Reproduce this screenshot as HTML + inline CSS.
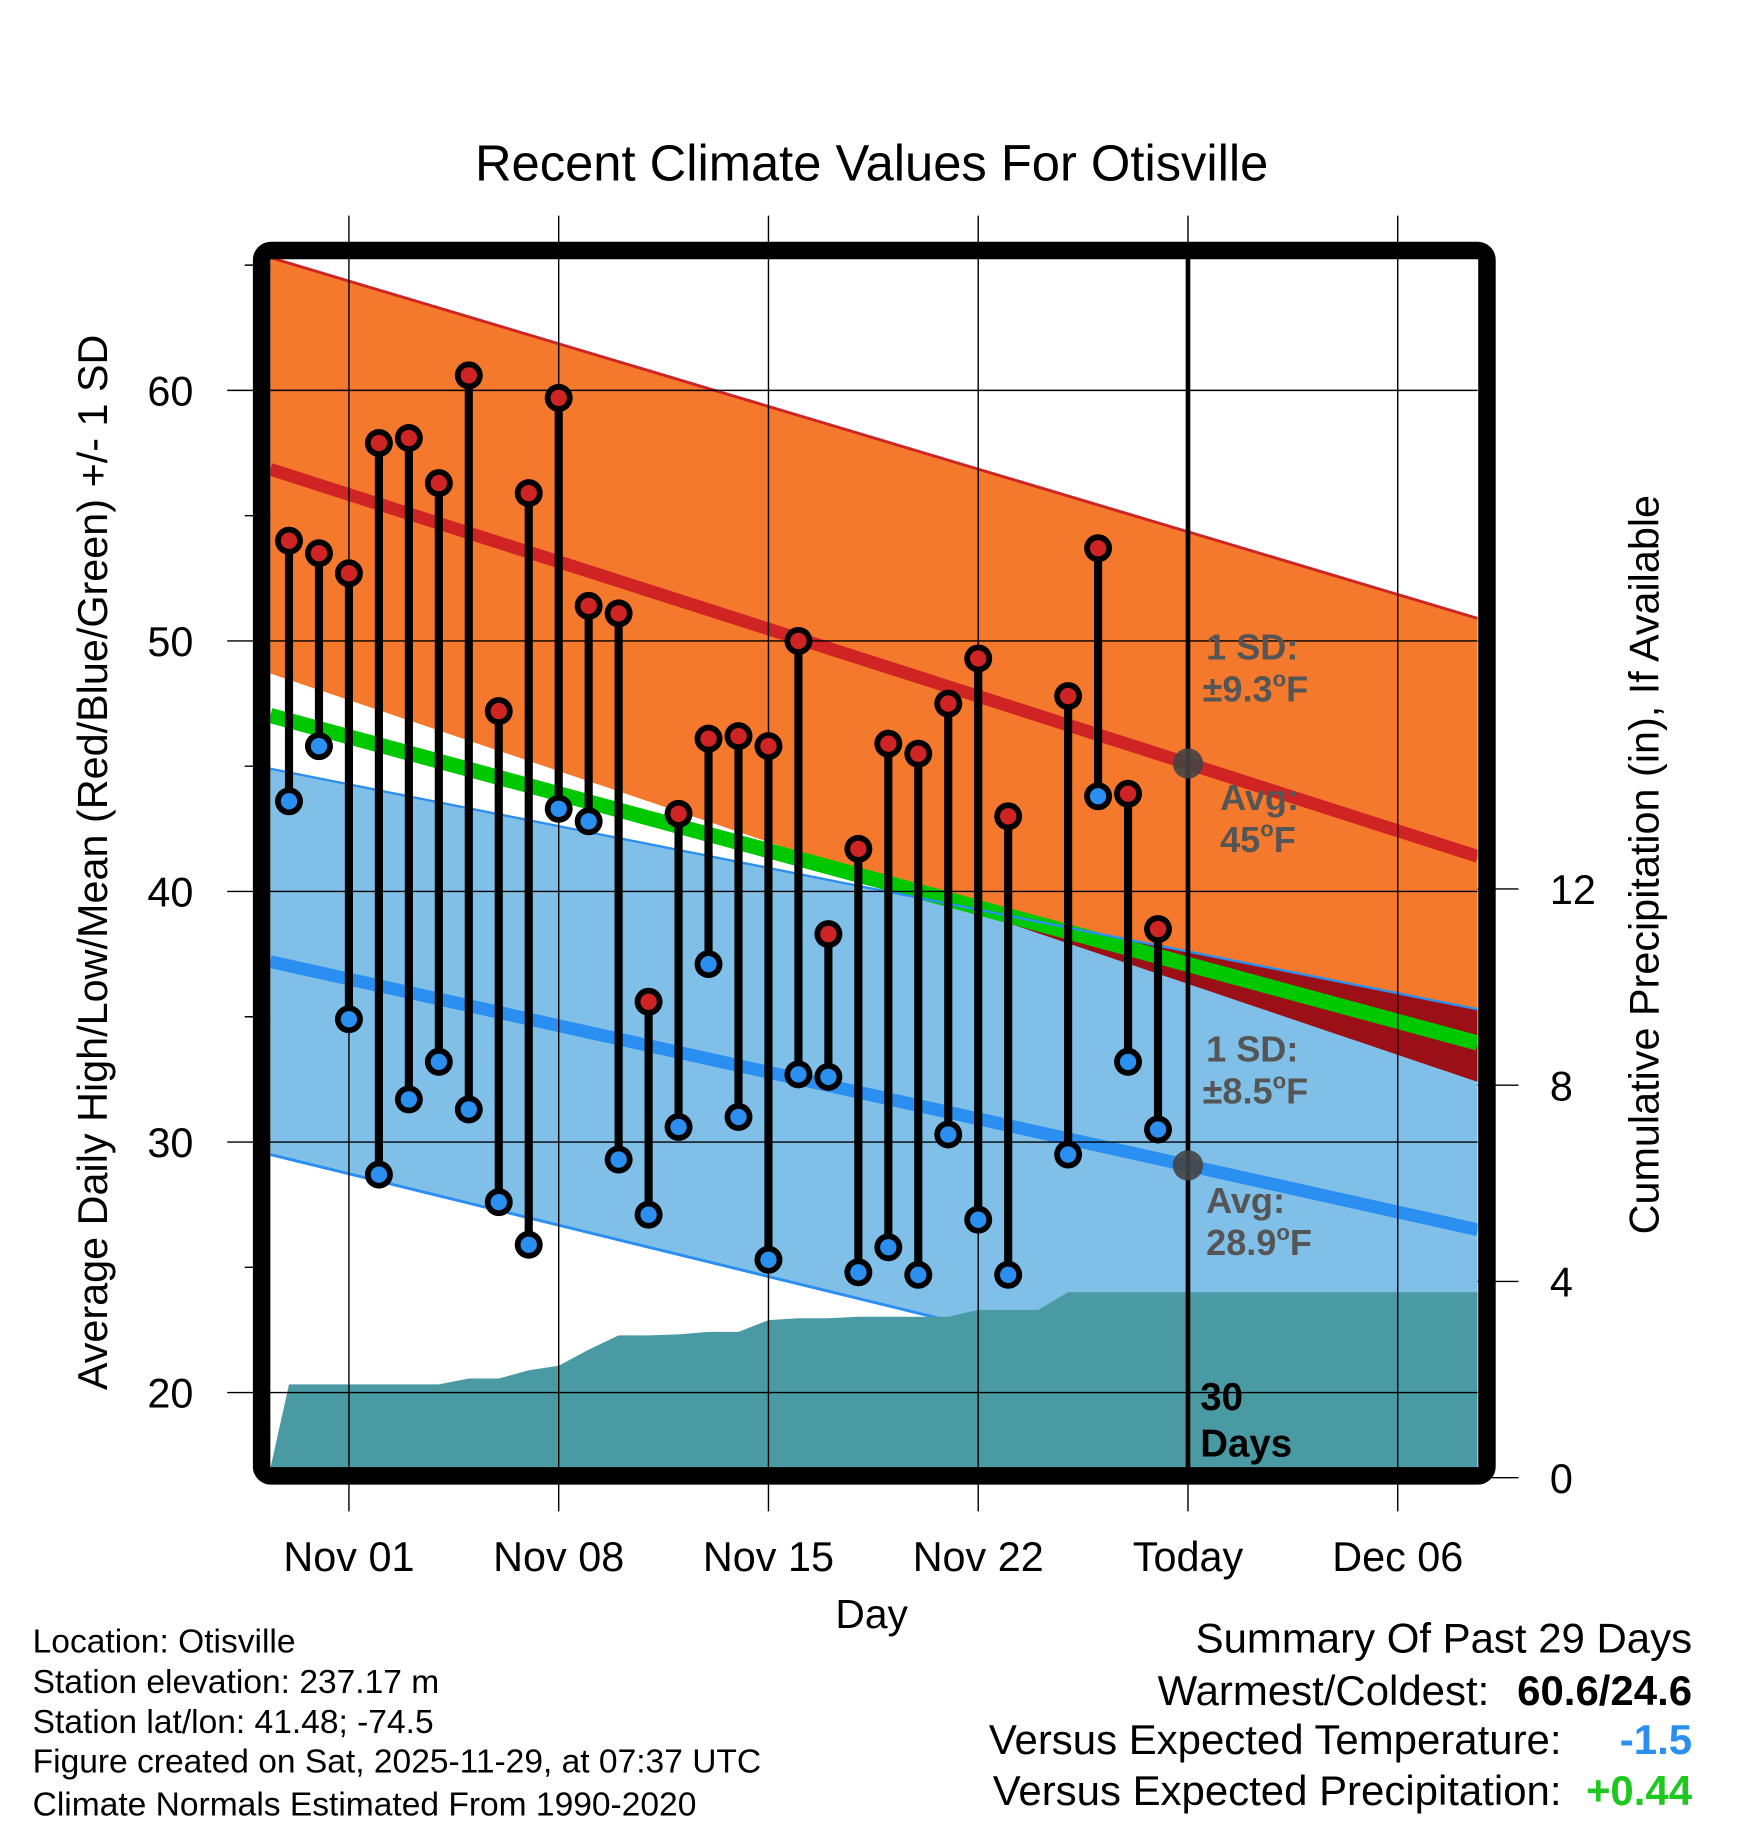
<!DOCTYPE html>
<html><head><meta charset="utf-8"><style>
html,body{margin:0;padding:0;background:#fff}
svg{display:block}
text{font-family:"Liberation Sans",sans-serif}
</style></head><body>
<svg id="chart" width="1748" height="1828" viewBox="0 0 1500 1568.65" preserveAspectRatio="none" xmlns="http://www.w3.org/2000/svg">
<text x="748" y="155" font-size="43.5" text-anchor="middle">Recent Climate Values For Otisville</text>
<text transform="translate(92,740) rotate(-90)" font-size="35.5" text-anchor="middle">Average Daily High/Low/Mean (Red/Blue/Green) +/- 1 SD</text>
<text transform="translate(1423,742) rotate(-90)" font-size="35.5" text-anchor="middle">Cumulative Precipitation (in), If Available</text>
<text x="748" y="1397" font-size="35" text-anchor="middle">Day</text>
<g font-size="28.8">
<text x="28" y="1418">Location: Otisville</text>
<text x="28" y="1453">Station elevation: 237.17 m</text>
<text x="28" y="1487">Station lat/lon: 41.48; -74.5</text>
<text x="28" y="1521">Figure created on Sat, 2025-11-29, at 07:37 UTC</text>
<text x="28" y="1558">Climate Normals Estimated From 1990-2020</text>
</g>
<g font-size="36">
<text x="1452" y="1418" text-anchor="end">Summary Of Past 29 Days</text>
<text x="1278" y="1463" text-anchor="end">Warmest/Coldest:</text>
<text x="1452" y="1463" text-anchor="end" font-weight="bold">60.6/24.6</text>
<text x="1340" y="1505" text-anchor="end">Versus Expected Temperature:</text>
<text x="1452" y="1505" text-anchor="end" font-weight="bold" fill="#2a8ff0">-1.5</text>
<text x="1340" y="1549" text-anchor="end">Versus Expected Precipitation:</text>
<text x="1452" y="1549" text-anchor="end" font-weight="bold" fill="#1ec81e">+0.44</text>
</g>
</svg>
<script>
// ---- data ----
const dayLabels = ["Oct 30","Oct 31","Nov 01","Nov 02","Nov 03","Nov 04","Nov 05","Nov 06","Nov 07","Nov 08","Nov 09","Nov 10","Nov 11","Nov 12","Nov 13","Nov 14","Nov 15","Nov 16","Nov 17","Nov 18","Nov 19","Nov 20","Nov 21","Nov 22","Nov 23","Nov 24","Nov 25","Nov 26","Nov 27","Nov 28"];
const highs = [54.0,53.5,52.7,57.9,58.1,56.3,60.6,47.2,55.9,59.7,51.4,51.1,35.6,43.1,46.1,46.2,45.8,50.0,38.3,41.7,45.9,45.5,47.5,49.3,43.0,null,47.8,53.7,43.9,38.5];
const lows = [43.6,45.8,34.9,28.7,31.7,33.2,31.3,27.6,25.9,43.3,42.8,29.3,27.1,30.6,37.1,31.0,25.3,32.7,32.6,24.8,25.8,24.7,30.3,26.9,24.7,null,29.5,43.8,33.2,30.5];
const cumPrecip = [1.9,1.9,1.9,1.9,1.9,1.9,2.02,2.02,2.19,2.28,2.61,2.9,2.9,2.92,2.97,2.97,3.21,3.25,3.25,3.28,3.28,3.28,3.28,3.42,3.42,3.42,3.78,3.78,3.78,3.78];
// band edges at left / right plot edge
const highUpper = [65.3,50.9];
const highMean = [56.85,41.4];
const highLower = [48.7,32.4];
const lowUpper = [44.9,35.3];
const lowMean = [37.2,26.5];
const lowLower = [29.5,17.7];
const xTickLabels = ["Nov 01","Nov 08","Nov 15","Nov 22","Today","Dec 06"];
const xTickDays = [2,9,16,23,30,37];
const yTicks = [20,30,40,50,60];
const yMinorTicks = [25,35,45,55,65];
const pTicks = [0,4,8,12];
const todayDay = 30;

// ---- axes ----
const L=232,R=1268,T=222,B=1260;
const X0=248, DX=180/7;
function xs(d){return X0+d*DX;}
function ys(t){return 335+(60-t)*21.5;}
function yp(p){return 1268-p*42.1;}
const dL=(L-X0)/DX, dR=(R-X0)/DX;
function lin(se,d){return se[0]+(se[1]-se[0])*(d-dL)/(dR-dL);}
const NS="http://www.w3.org/2000/svg";
const svg=document.getElementById('chart');
function mk(tag,attrs,parent){const e=document.createElementNS(NS,tag);for(const k in attrs)e.setAttribute(k,attrs[k]);(parent||svg).appendChild(e);return e;}
const clip=mk('clipPath',{id:'pc'},mk('defs',{}));
mk('rect',{x:L,y:T,width:R-L,height:B-T},clip);
const plot=mk('g',{'clip-path':'url(#pc)'});



function bandPts(f1,f2){const a=[],b=[];const N=80;for(let i=0;i<=N;i++){const d=dL+(dR-dL)*i/N;a.push(xs(d)+','+ys(f1(d)));b.unshift(xs(d)+','+ys(f2(d)));}return a.concat(b).join(' ');}
const hU=d=>lin(highUpper,d), hM=d=>lin(highMean,d), hL=d=>lin(highLower,d);
const lU=d=>lin(lowUpper,d), lM=d=>lin(lowMean,d), lL=d=>lin(lowLower,d);
const mean=d=>(hM(d)+lM(d))/2;

let e;
e=mk('polygon',{points:bandPts(hU,hL),fill:'#f5792c'},plot);


e=mk('polygon',{points:bandPts(lU,lL),fill:'#80c0e8'},plot);


e=mk('polygon',{points:bandPts(d=>Math.max(lU(d),hL(d)),hL),fill:'#9b1016'},plot);


function line(f,stroke,w,name){const el=mk('line',{x1:xs(dL),y1:ys(f(dL)),x2:xs(dR),y2:ys(f(dR)),stroke:stroke,'stroke-width':w},plot);return el;}
line(hU,'#d02424',2.5,'high-sd-upper-line');
line(lL,'#2a8ff0',2.5,'low-sd-lower-line');

// precip area
let pp=[L+','+B];
pp.push(xs(0)+','+yp(cumPrecip[0]));
for(let i=1;i<cumPrecip.length;i++)pp.push(xs(i)+','+yp(cumPrecip[i]));
pp.push(R+','+yp(cumPrecip[cumPrecip.length-1]));pp.push(R+','+B);
e=mk('polygon',{points:pp.join(' '),fill:'#4a9aa4'},plot);



// grid
const grid=mk('g',{stroke:'#000','stroke-width':1.2});


xTickDays.forEach(d=>{mk('line',{x1:xs(d),y1:185,x2:xs(d),y2:1297},grid);});
yTicks.forEach(t=>{mk('line',{x1:195,y1:ys(t),x2:R,y2:ys(t)},grid);});
yMinorTicks.forEach(t=>{mk('line',{x1:210,y1:ys(t),x2:L,y2:ys(t)},grid);});
pTicks.forEach(p=>{mk('line',{x1:R,y1:yp(p),x2:1303,y2:yp(p)},grid);});

line(hM,'#d02424',11,'normal-high-line');
line(lM,'#2a8ff0',11,'normal-low-line');
line(mean,'#00c800',13,'normal-mean-line');
line(lU,'#2a8ff0',2,'low-sd-upper-line');

// today line
e=mk('line',{x1:xs(todayDay),y1:T,x2:xs(todayDay),y2:B,stroke:'#000','stroke-width':4},plot);



// stems
const sg=mk('g',{});


highs.forEach((h,i)=>{
  if(h==null)return;
  const x=xs(i);
  const st=mk('line',{x1:x,y1:ys(h),x2:x,y2:ys(lows[i]),stroke:'#000','stroke-width':7},sg);
  
  
  [[h,'#d02424','high'],[lows[i],'#2a8ff0','low']].forEach(v=>{
    const c1=mk('circle',{cx:x,cy:ys(v[0]),r:12,fill:'#000'},sg);
    
    
    mk('circle',{cx:x,cy:ys(v[0]),r:7,fill:v[1]},sg);
  });
});

// today markers
e=mk('circle',{cx:xs(todayDay),cy:ys(hM(todayDay)),r:13,fill:'#444','fill-opacity':0.9});


e=mk('circle',{cx:xs(todayDay),cy:ys(lM(todayDay)),r:13,fill:'#444','fill-opacity':0.9});



// annotations
const ann=mk('g',{fill:'#555','font-size':31,'font-weight':'bold'});


function t(x,y,s,parent){const el=mk('text',{x:x,y:y},parent);el.innerHTML=s;return el;}
const sup='<tspan dy="-13" font-size="19">o</tspan><tspan dy="13">F</tspan>';
t(1035,566,'1 SD:',ann);t(1032,602,'±9.3'+sup,ann);
t(1047,695,'Avg:',ann);t(1047,731,'45'+sup,ann);
t(1035,911,'1 SD:',ann);t(1032,947,'±8.5'+sup,ann);
t(1035,1041,'Avg:',ann);t(1035,1077,'28.9'+sup,ann);
const dg=mk('g',{fill:'#000','font-size':33,'font-weight':'bold'});


t(1030,1210,'30',dg);t(1030,1250,'Days',dg);

// frame
e=mk('rect',{x:224.5,y:215,width:1051.5,height:1051.5,rx:8,fill:'none',stroke:'#000','stroke-width':15});



// tick labels
const tl=mk('g',{'font-size':35.5});


xTickDays.forEach((d,i)=>{const el=mk('text',{x:xs(d),y:1348,'text-anchor':'middle'},tl);el.textContent=xTickLabels[i];});
yTicks.forEach(v=>{const el=mk('text',{x:166,y:ys(v)+13,'text-anchor':'end'},tl);el.textContent=v;});
pTicks.forEach(v=>{const el=mk('text',{x:1330,y:yp(v)+13},tl);el.textContent=v;});
</script>
</body></html>
